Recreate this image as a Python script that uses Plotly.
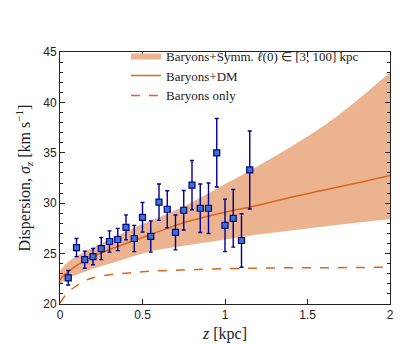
import plotly.graph_objects as go

# measured dispersion data
z_obs = [0.05, 0.10, 0.15, 0.20, 0.25, 0.30, 0.35, 0.40, 0.45, 0.50, 0.55, 0.60,
         0.65, 0.70, 0.75, 0.80, 0.85, 0.90, 0.95, 1.00, 1.05, 1.10, 1.15]
sigma_obs = [22.6, 25.6, 24.4, 24.7, 25.5, 26.2, 26.4, 27.6, 26.5, 28.6, 26.7, 30.1,
             29.4, 27.1, 29.3, 31.8, 29.5, 29.5, 35.0, 27.8, 28.5, 26.3, 33.3]
sigma_err = [0.72, 0.9, 0.85, 0.8, 1.1, 1.05, 1.1, 1.24, 1.3, 1.47, 1.55, 1.8,
             1.83, 1.73, 1.96, 2.45, 2.4, 2.5, 3.4, 2.6, 2.86, 2.66, 3.87]

# model curves
z_model = [0.0, 0.025, 0.05, 0.1, 0.15, 0.2, 0.3, 0.4, 0.5, 0.6, 0.7, 0.8,
           1.0, 1.2, 1.4, 1.6, 1.8, 2.0]
sigma_dm = [22.4, 22.85, 23.2, 23.8, 24.3, 24.7, 25.4, 26.0, 26.6, 27.2, 27.8, 28.3,
            29.1, 29.8, 30.6, 31.3, 32.0, 32.75]
band_upper = [23.3, 23.8, 24.2, 24.7, 25.2, 25.6, 26.4, 27.2, 27.9, 28.6, 29.3, 30.1,
              31.9, 33.7, 35.6, 37.7, 40.2, 43.0]
band_lower = [21.9, 22.3, 22.6, 22.9, 23.2, 23.5, 24.0, 24.5, 25.0, 25.4, 25.65, 25.9,
              26.4, 26.9, 27.3, 27.7, 28.05, 28.4]
sigma_bar = [20.1, 20.7, 21.2, 21.8, 22.3, 22.6, 22.9, 23.05, 23.2, 23.3, 23.35, 23.4,
             23.5, 23.55, 23.6, 23.6, 23.62, 23.65]

band_fill = '#EBB38F'
line_col = '#D9661F'
navy = '#00008B'

fig = go.Figure()

fig.add_trace(go.Scatter(x=z_model, y=band_lower, mode='lines', line=dict(width=0, shape='spline'),
                         showlegend=False, hoverinfo='skip'))
fig.add_trace(go.Scatter(x=z_model, y=band_upper, mode='lines', line=dict(width=0, shape='spline'),
                         fill='tonexty', fillcolor=band_fill,
                         name='Baryons+Symm. <i>ℓ</i>(0) ∈ [3, 100] kpc'))
fig.add_trace(go.Scatter(x=z_model, y=sigma_dm, mode='lines',
                         line=dict(color=line_col, width=1.5, shape='spline'),
                         name='Baryons+DM'))
fig.add_trace(go.Scatter(x=z_model, y=sigma_bar, mode='lines',
                         line=dict(color=line_col, width=1.5, dash='dash', shape='spline'),
                         name='Baryons only'))
fig.add_trace(go.Scatter(x=z_obs, y=sigma_obs, mode='markers',
                         marker=dict(symbol='square', size=6, color='#3F74C4',
                                     line=dict(color=navy, width=1.2)),
                         error_y=dict(type='data', array=sigma_err, color=navy,
                                      thickness=1.4, width=2),
                         showlegend=False))

axis_common = dict(showline=True, linecolor='#222', linewidth=1, mirror='allticks',
                   ticks='inside', tickcolor='#222', showgrid=False, zeroline=False,
                   tickfont=dict(family='Liberation Sans, Arial', size=12, color='#222'))

fig.update_xaxes(range=[0, 2], tickvals=[0, 0.5, 1, 1.5, 2],
                 ticktext=['0', '0.5', '1', '1.5', '2'], ticklen=5,
                 title=dict(text='<i>z</i> [kpc]', standoff=6,
                            font=dict(family='Liberation Serif, Times New Roman', size=16, color='#222')),
                 **axis_common)
fig.update_yaxes(range=[20, 45], dtick=5, ticklen=5,
                 minor=dict(dtick=1, ticks='inside', ticklen=3, tickcolor='#222'),
                 title=dict(text='Dispersion, <i>σ<sub>z</sub></i> [km s<sup>−1</sup>]', standoff=8,
                            font=dict(family='Liberation Serif, Times New Roman', size=16, color='#222')),
                 **axis_common)

fig.update_layout(
    width=407, height=344,
    margin=dict(l=52, r=25, t=44, b=45),
    plot_bgcolor='white', paper_bgcolor='white',
    legend=dict(x=0.2, y=1.045, xanchor='left', yanchor='top', bgcolor='rgba(0,0,0,0)',
                itemwidth=30, tracegroupgap=0, traceorder='normal',
                font=dict(family='Liberation Serif, Times New Roman', size=13, color='#222')),
)

fig.write_html("out.html")
